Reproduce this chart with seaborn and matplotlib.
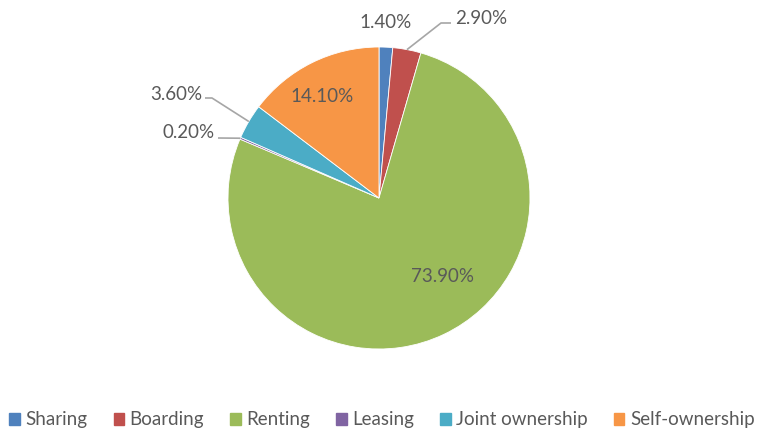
import numpy as np
import matplotlib
matplotlib.use("Agg")
import matplotlib.pyplot as plt
import seaborn as sns

categories = ["Sharing", "Boarding", "Renting", "Leasing", "Joint ownership", "Self-ownership"]
values = [1.4, 2.9, 73.9, 0.2, 3.6, 14.1]
labels = ["1.40%", "2.90%", "73.90%", "0.20%", "3.60%", "14.10%"]
colors = ["#4F81BD", "#C0504D", "#9BBB59", "#8064A2", "#4BACC6", "#F79646"]

sns.set_theme(style="white")
plt.rcParams["font.family"] = ["Lato", "DejaVu Sans"]

W, H = 763, 430
fig = plt.figure(figsize=(W / 100, H / 100), dpi=100)
cx, cy, R = 379, 198, 151
ax = fig.add_axes([(cx - R) / W, (H - cy - R) / H, 2 * R / W, 2 * R / H])

wedges, _ = ax.pie(values, colors=colors, startangle=90, counterclock=False,
                   radius=1, wedgeprops=dict(edgecolor="white", linewidth=0.6))
ax.set_xlim(-1, 1)
ax.set_ylim(-1, 1)
ax.axis("off")

def px(x, y):
    return ((x - cx) / R, (cy - y) / R)

txtc = "#595959"
fs = 13.5
lc = "#A6A6A6"

layout = {
    0: ((386, 22), "center", None),
    1: ((455, 19), "left", [(441, 23), (451, 23)]),
    2: ((442, 277), "center", None),
    3: ((215, 132), "right", [(218, 138)]),
    4: ((202, 95), "right", [(212, 98), (205, 98)]),
    5: ((322, 96), "center", None),
}

for i, w in enumerate(wedges):
    (tx, ty), ha, pts = layout[i]
    if pts is not None:
        mid = np.deg2rad((w.theta1 + w.theta2) / 2)
        start = (np.cos(mid), np.sin(mid))
        xs = [start[0]] + [px(*p)[0] for p in pts]
        ys = [start[1]] + [px(*p)[1] for p in pts]
        ax.plot(xs, ys, color=lc, lw=1.2, clip_on=False, solid_capstyle="butt")
    x, y = px(tx, ty)
    ax.text(x, y, labels[i], ha=ha, va="center", fontsize=fs, color=txtc, clip_on=False)

handles = [plt.Rectangle((0, 0), 1, 1, color=c) for c in colors]
fig.legend(handles, categories, loc="center", bbox_to_anchor=(382 / W, 1 - 420 / H),
           ncol=6, frameon=False, fontsize=13.5, handlelength=0.55, handleheight=0.55,
           handletextpad=0.3, columnspacing=1.4, labelcolor=txtc)

fig.savefig("out.png", dpi=100, facecolor="white")
